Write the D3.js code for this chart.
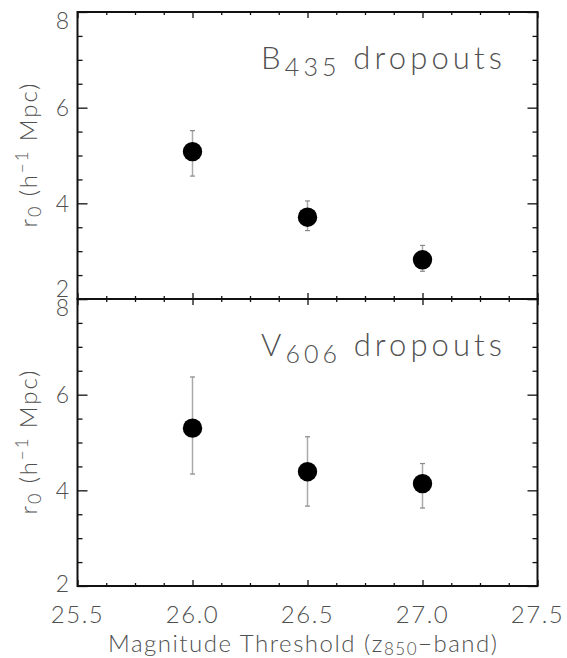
<!DOCTYPE html>
<html>
<head>
<meta charset="utf-8">
<script src="https://cdn.jsdelivr.net/npm/d3@7"></script>
<style>
  html, body { margin: 0; padding: 0; background: #fff; }
  svg { display: block; }
  text { font-family: "Lato", "DejaVu Sans", sans-serif; font-weight: 300; fill: #505050; }
</style>
</head>
<body>
<svg id="chart" width="567" height="658"></svg>
<script>
// Magnitude thresholds (z850-band) used for both dropout samples
const magnitudes = [26.0, 26.5, 27.0];

// B435 dropouts: correlation length r0 and its error range
const bR0     = [5.08, 3.71, 2.82];
const bR0High = [5.52, 4.05, 3.12];
const bR0Low  = [4.57, 3.43, 2.58];

// V606 dropouts: correlation length r0 and its error range
const vR0     = [5.30, 4.39, 4.14];
const vR0High = [6.37, 5.12, 4.56];
const vR0Low  = [4.34, 3.67, 3.63];

// Axis ticks and labels
const xMajorTicks = [25.5, 26.0, 26.5, 27.0, 27.5];
const xTickLabels = ["25.5", "26.0", "26.5", "27.0", "27.5"];
const yMajorTicks = [2, 4, 6, 8];
const yTickLabels = ["2", "4", "6", "8"];

const svg = d3.select("#chart");
const left = 77.5, right = 537.5;
const panelTop = [12, 299], panelBottom = [299, 586];

const x = d3.scaleLinear().domain([25.5, 27.5]).range([left, right]);
const xMinor = d3.range(25.5, 27.5001, 0.125).filter(v => !xMajorTicks.some(t => Math.abs(t - v) < 1e-6));
const yMinor = d3.range(2, 8.001, 0.5).filter(v => !yMajorTicks.includes(v));

const panels = [
  { name: "B", sub: "435", r0: bR0, hi: bR0High, lo: bR0Low, top: panelTop[0], bottom: panelBottom[0], padTop: 9, padBottom: 10 },
  { name: "V", sub: "606", r0: vR0, hi: vR0High, lo: vR0Low, top: panelTop[1], bottom: panelBottom[1], padTop: 9, padBottom: 2.5 }
];

panels.forEach((p, pi) => {
  const y = d3.scaleLinear().domain([2, 8]).range([p.bottom, p.top]);
  const g = svg.append("g");

  // inward-pointing ticks on all four sides
  const tickStyle = sel => {
    sel.select(".domain").remove();
    sel.selectAll(".tick line").attr("stroke", "#111").attr("stroke-width", 1.3);
    sel.selectAll(".tick text").remove();
  };
  g.append("g").attr("transform", `translate(0,${p.bottom})`)
    .call(d3.axisBottom(x).tickValues(xMajorTicks).tickSize(-6)).call(tickStyle);
  g.append("g").attr("transform", `translate(0,${p.bottom})`)
    .call(d3.axisBottom(x).tickValues(xMinor).tickSize(-3)).call(tickStyle);
  g.append("g").attr("transform", `translate(0,${p.top})`)
    .call(d3.axisTop(x).tickValues(xMajorTicks).tickSize(-6)).call(tickStyle);
  g.append("g").attr("transform", `translate(0,${p.top})`)
    .call(d3.axisTop(x).tickValues(xMinor).tickSize(-3)).call(tickStyle);
  g.append("g").attr("transform", `translate(${left},0)`)
    .call(d3.axisLeft(y).tickValues(yMajorTicks).tickSize(-10)).call(tickStyle);
  g.append("g").attr("transform", `translate(${left},0)`)
    .call(d3.axisLeft(y).tickValues(yMinor).tickSize(-5)).call(tickStyle);
  g.append("g").attr("transform", `translate(${right},0)`)
    .call(d3.axisRight(y).tickValues(yMajorTicks).tickSize(-10)).call(tickStyle);
  g.append("g").attr("transform", `translate(${right},0)`)
    .call(d3.axisRight(y).tickValues(yMinor).tickSize(-5)).call(tickStyle);

  // frame
  g.append("rect")
    .attr("x", left).attr("y", p.top)
    .attr("width", right - left).attr("height", p.bottom - p.top)
    .attr("fill", "none").attr("stroke", "#111").attr("stroke-width", 2);

  // y tick labels, kept inside the panel at the ends
  g.selectAll(".ylab").data(yMajorTicks).join("text")
    .attr("x", 69)
    .attr("y", d => Math.min(Math.max(y(d), p.top + p.padTop), p.bottom - p.padBottom))
    .attr("dy", "0.36em")
    .attr("text-anchor", "end")
    .attr("font-size", 23)
    .text((d, i) => yTickLabels[i]);

  // y axis title
  const cy = (p.top + p.bottom) / 2;
  const yt = g.append("text")
    .attr("transform", `translate(37,${cy}) rotate(-90)`)
    .attr("text-anchor", "middle")
    .attr("font-size", 24)
    .attr("textLength", 144).attr("lengthAdjust", "spacing");
  yt.append("tspan").text("r");
  yt.append("tspan").attr("font-size", 18).attr("dy", 4).text("0");
  yt.append("tspan").attr("dy", -4).text(" (h");
  yt.append("tspan").attr("font-size", 17).attr("dy", -9).text("−1");
  yt.append("tspan").attr("dy", 9).text(" Mpc)");

  // panel label
  const lab = g.append("text")
    .attr("x", 261).attr("y", p.top + 56.5)
    .attr("font-size", 31)
    .attr("textLength", 241).attr("lengthAdjust", "spacing");
  lab.append("tspan").text(p.name);
  lab.append("tspan").attr("font-size", 25).attr("dy", 7).text(p.sub);
  lab.append("tspan").attr("dy", -7).text(" dropouts");

  // error bars
  const eb = g.selectAll(".err").data(magnitudes).join("g");
  eb.append("line")
    .attr("x1", d => x(d)).attr("x2", d => x(d))
    .attr("y1", (d, i) => y(p.hi[i])).attr("y2", (d, i) => y(p.lo[i]))
    .attr("stroke", "#aaa").attr("stroke-width", 1.5);
  eb.append("line")
    .attr("x1", d => x(d) - 2.5).attr("x2", d => x(d) + 2.5)
    .attr("y1", (d, i) => y(p.hi[i])).attr("y2", (d, i) => y(p.hi[i]))
    .attr("stroke", "#888").attr("stroke-width", 1.2);
  eb.append("line")
    .attr("x1", d => x(d) - 2.5).attr("x2", d => x(d) + 2.5)
    .attr("y1", (d, i) => y(p.lo[i])).attr("y2", (d, i) => y(p.lo[i]))
    .attr("stroke", "#888").attr("stroke-width", 1.2);

  // points
  g.selectAll(".pt").data(magnitudes).join("circle")
    .attr("cx", d => x(d))
    .attr("cy", (d, i) => y(p.r0[i]))
    .attr("r", 9.7)
    .attr("fill", "#000");
});

// x tick labels
svg.selectAll(".xlab").data(xMajorTicks).join("text")
  .attr("x", d => x(d))
  .attr("y", 622.5)
  .attr("text-anchor", "middle")
  .attr("font-size", 24)
  .attr("letter-spacing", 1.5)
  .text((d, i) => xTickLabels[i]);

// x axis title
const xt = svg.append("text")
  .attr("x", 108).attr("y", 652)
  .attr("font-size", 24)
  .attr("textLength", 389).attr("lengthAdjust", "spacing");
xt.append("tspan").text("Magnitude Threshold (z");
xt.append("tspan").attr("font-size", 17).attr("dy", 3).text("850");
xt.append("tspan").attr("dy", -3).text("−band)");
</script>
</body>
</html>
